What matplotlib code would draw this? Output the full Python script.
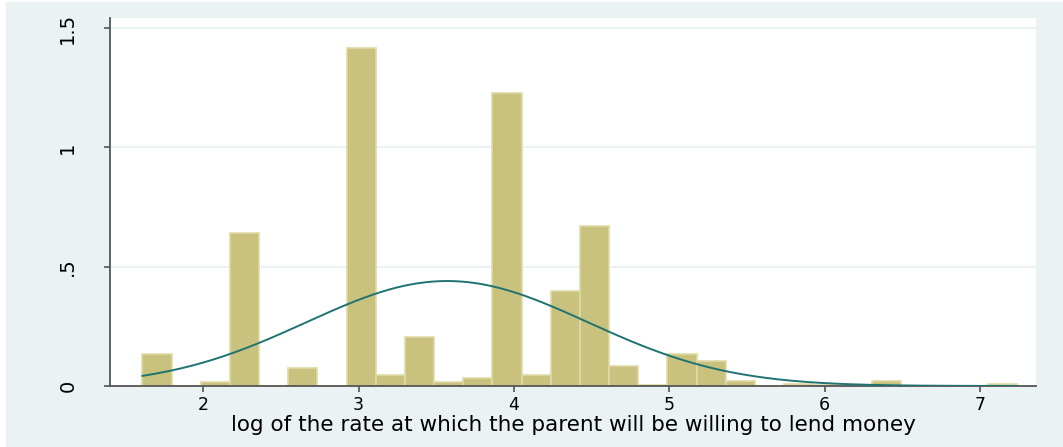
import numpy as np
import matplotlib
matplotlib.use("Agg")
import matplotlib.pyplot as plt
from matplotlib.patches import Rectangle

# histogram of log lending rate (density scale), 30 bins from ln(5) to ln(1400)
x_min = 1.609
x_max = 7.24
density = [0.134, 0.0, 0.017, 0.641, 0.0, 0.077, 0.0, 1.416, 0.046, 0.205,
           0.017, 0.034, 1.227, 0.046, 0.400, 0.670, 0.084, 0.003, 0.134, 0.105,
           0.020, 0.0, 0.008, 0.004, 0.0, 0.020, 0.0, 0.0, 0.0, 0.010]

# normal density overlay
mu = 3.57
sigma = 0.907

y_ticks = [0, 0.5, 1, 1.5]
y_tick_labels = ["0", ".5", "1", "1.5"]
x_ticks = [2, 3, 4, 5, 6, 7]
x_label = "log of the rate at which the parent will be willing to lend money"

BG = "#eaf2f3"
BAR = "#c9c27f"
EDGE = "#dfdaa6"
LINE = "#1f7370"

fig = plt.figure(figsize=(10.63, 4.47), dpi=100, facecolor="white")
fig.patches.append(Rectangle((6 / 1063, 0), 1, 1 - 2 / 447,
                             transform=fig.transFigure, color=BG, zorder=-10))
ax = fig.add_axes([110 / 1063, 1 - 386 / 447, (1036 - 110) / 1063, (386 - 18) / 447])
ax.set_facecolor("white")

edges = np.linspace(x_min, x_max, len(density) + 1)
width = edges[1] - edges[0]
ax.bar(edges[:-1], density, width=width, align="edge", color=BAR,
       edgecolor=EDGE, linewidth=1.2, zorder=2)

xs = np.linspace(x_min, x_max, 300)
pdf = np.exp(-0.5 * ((xs - mu) / sigma) ** 2) / (sigma * np.sqrt(2 * np.pi))
ax.plot(xs, pdf, color=LINE, linewidth=1.4, zorder=3)

ax.set_xlim(1.40, 7.36)
ax.set_ylim(0, 1.542)

ax.set_yticks(y_ticks)
ax.set_yticklabels(y_tick_labels, rotation=90, va="center")
ax.set_xticks(x_ticks)
ax.grid(axis="y", color=BG, linewidth=1.5, zorder=0)
ax.set_axisbelow(True)

for s in ["top", "right"]:
    ax.spines[s].set_visible(False)
for s in ["left", "bottom"]:
    ax.spines[s].set_color("#555555")
    ax.spines[s].set_linewidth(1.3)

ax.tick_params(axis="both", colors="#555555", length=4.5, width=1.2,
               labelcolor="black")
ax.tick_params(axis="y", pad=19, labelsize=14)
ax.tick_params(axis="x", pad=2.5, labelsize=12.5)
for lab in ax.get_xticklabels() + ax.get_yticklabels():
    lab.set_family("DejaVu Sans")

ax.set_xlabel(x_label, fontsize=15.5, family="DejaVu Sans", labelpad=1)

fig.savefig("out.png", dpi=100, facecolor="white")
